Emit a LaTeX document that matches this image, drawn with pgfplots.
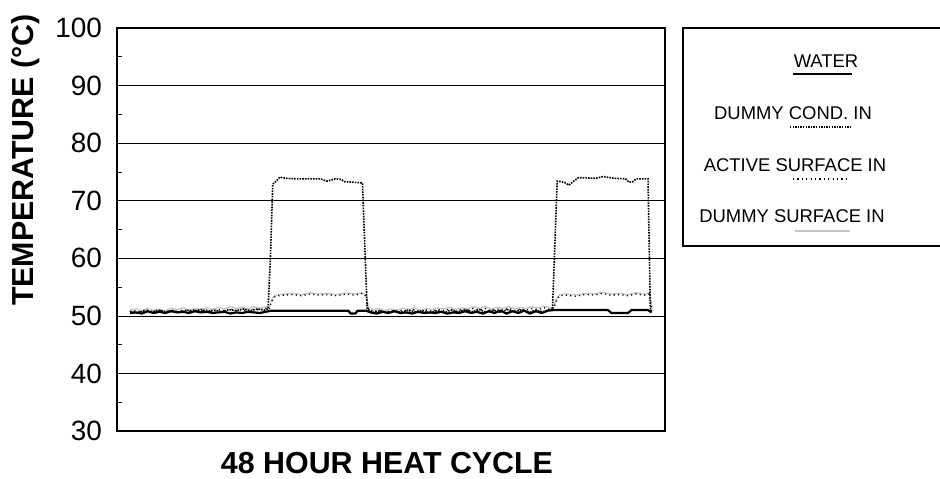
\documentclass[border=0pt]{standalone}
\usepackage{fontspec}
\setmainfont{Liberation Sans}
\usepackage{pgfplots}
\pgfplotsset{compat=1.18}
\begin{document}
\begin{tikzpicture}[x=1bp,y=1bp]
\path[use as bounding box] (0,0) rectangle (940,479);
\begin{axis}[
  at={(117bp,48bp)}, anchor=south west,
  width=548bp, height=403bp, scale only axis,
  xmin=-1.1, xmax=45.34, ymin=30, ymax=100,
  xtick=\empty,
  ytick={30,40,...,100},
  minor y tick num=1,
  ytick pos=left,
  minor tick length=5bp,
  major tick length=0bp,
  ymajorgrids,
  major grid style={black, line width=0.7bp},
  axis line style={black, line width=1.6bp},
  every minor tick/.style={black, line width=0.8bp},
  /pgf/number format/assume math mode=true,
  yticklabel style={font=\fontsize{28}{28}\selectfont, inner sep=0pt, anchor=east, xshift=-15bp},
  clip=false,
]
% Dummy surface in (light gray)
\addplot[gray!45, line width=1.3bp] coordinates {
(0.0,51.0)(0.5,51.2)(1.0,50.9)(1.5,51.3)(2.0,51.0)(2.5,51.2)(3.0,50.9)(3.5,51.3)(4.0,51.1)(4.5,51.4)(5.0,51.0)(5.5,51.3)(6.0,51.1)(6.5,51.4)(7.0,51.1)(7.5,51.5)(8.0,51.2)(8.5,51.6)(9.0,51.3)(9.5,51.5)(10.0,51.2)(10.5,51.6)(11.0,51.3)(11.5,51.6)(11.8,51.4)
(12.0,52.8)(12.3,53.6)(13.0,53.8)(13.8,53.9)(14.5,53.7)(15.3,54.0)(16.0,53.8)(16.8,53.9)(17.5,53.7)(18.3,54.0)(19.0,53.8)(19.7,54.0)(20.0,53.6)(20.2,51.6)
(20.6,51.0)(21.1,51.3)(21.6,50.9)(22.1,51.2)(22.6,51.0)(23.1,51.3)(23.6,51.1)(24.1,51.4)(24.6,51.0)(25.1,51.3)(25.6,51.1)(26.1,51.4)(26.6,51.2)(27.1,51.5)(27.6,51.1)(28.1,51.4)(28.6,51.2)(29.1,51.6)(29.6,51.3)(30.1,51.6)(30.6,51.2)(31.1,51.5)(31.6,51.3)(32.1,51.6)(32.6,51.2)(33.1,51.5)(33.6,51.3)(34.1,51.6)(34.6,51.4)(35.1,51.7)(35.6,51.4)(35.9,51.5)
(36.1,52.8)(36.4,53.7)(37.0,53.8)(37.8,53.6)(38.5,53.9)(39.3,53.8)(40.0,54.1)(40.7,53.8)(41.5,53.9)(42.2,53.7)(42.9,54.0)(43.6,53.8)(44.0,54.0)(44.2,51.6)(44.3,51.3)
};
% Active surface in (loose dots)
\addplot[black, line width=1.3bp, dash pattern=on 1.2bp off 3.2bp] coordinates {
(0.0,50.7)(0.5,50.9)(1.0,50.6)(1.5,51.0)(2.0,50.7)(2.5,50.9)(3.0,50.6)(3.5,51.0)(4.0,50.8)(4.5,51.0)(5.0,50.7)(5.5,51.1)(6.0,50.8)(6.5,51.0)(7.0,50.7)(7.5,51.1)(8.0,50.9)(8.5,51.2)(9.0,50.9)(9.5,51.1)(10.0,50.8)(10.5,51.2)(11.0,51.0)(11.5,51.3)(11.8,51.1)
(12.0,52.5)(12.3,53.4)(13.0,53.6)(13.8,53.7)(14.5,53.5)(15.3,53.8)(16.0,53.6)(16.8,53.7)(17.5,53.5)(18.3,53.8)(19.0,53.6)(19.7,53.9)(20.0,53.4)(20.2,51.3)
(20.6,50.7)(21.1,51.0)(21.6,50.6)(22.1,50.9)(22.6,50.7)(23.1,51.0)(23.6,50.8)(24.1,51.1)(24.6,50.7)(25.1,51.0)(25.6,50.8)(26.1,51.1)(26.6,50.9)(27.1,51.2)(27.6,50.8)(28.1,51.1)(28.6,50.9)(29.1,51.3)(29.6,51.0)(30.1,51.3)(30.6,50.9)(31.1,51.2)(31.6,51.0)(32.1,51.3)(32.6,50.9)(33.1,51.2)(33.6,51.0)(34.1,51.3)(34.6,51.1)(35.1,51.4)(35.6,51.1)(35.9,51.2)
(36.1,52.5)(36.4,53.5)(37.0,53.6)(37.8,53.4)(38.5,53.7)(39.3,53.6)(40.0,53.9)(40.7,53.6)(41.5,53.7)(42.2,53.5)(42.9,53.8)(43.6,53.6)(44.0,53.8)(44.2,51.4)(44.3,51.1)
};
% Dummy cond. in (dense dots)
\addplot[black, line width=1.6bp, dash pattern=on 1.6bp off 1.1bp] coordinates {
(0.0,50.8)(0.6,50.5)(1.2,50.9)(1.8,50.6)(2.4,51.0)(3.0,50.7)(3.6,50.9)(4.2,50.6)(4.8,51.0)(5.4,50.8)(6.0,51.1)(6.6,50.8)(7.2,51.0)(7.8,50.7)(8.4,51.1)(9.0,50.9)(9.6,51.2)(10.2,50.9)(10.8,51.2)(11.4,51.0)(11.7,51.2)
(11.9,60.0)(12.1,72.9)(12.4,73.4)(12.7,74.1)(13.2,73.9)(14.0,73.8)(15.0,73.8)(16.1,73.8)(16.7,73.4)(17.4,73.8)(17.9,73.7)(18.2,73.3)(19.0,73.2)(19.7,73.1)(19.9,62.0)(20.1,51.2)
(20.6,50.6)(21.2,50.9)(21.8,50.5)(22.4,50.9)(23.0,50.6)(23.6,51.0)(24.2,50.7)(24.8,50.9)(25.4,50.5)(26.0,50.9)(26.6,50.6)(27.2,51.0)(27.8,50.7)(28.4,51.1)(29.0,50.7)(29.6,51.1)(30.2,50.6)(30.8,51.0)(31.4,50.6)(32.0,51.1)(32.6,50.7)(33.2,51.1)(33.8,50.6)(34.4,51.0)(35.0,50.7)(35.6,51.1)(35.8,51.1)
(36.0,62.0)(36.2,73.4)(36.8,73.2)(37.2,72.7)(37.6,73.4)(38.0,74.0)(39.5,73.9)(40.1,74.2)(41.0,73.9)(42.0,73.8)(42.3,73.2)(42.6,73.3)(42.9,73.8)(43.9,73.8)(44.0,62.0)(44.1,51.0)(44.3,50.8)
};
% Water (solid thick)
\addplot[black, line width=2.2bp] coordinates {
(0.0,50.5)(0.5,50.6)(1.0,50.4)(1.5,50.8)(2.0,50.5)(2.5,50.7)(3.0,50.5)(3.5,50.8)(4.0,50.6)(4.5,50.7)(5.0,50.5)(5.5,50.8)(6.0,50.6)(6.5,50.7)(7.0,50.5)(7.5,50.6)(8.0,50.7)(8.5,50.4)(9.0,50.6)(9.5,50.5)(10.0,50.7)(10.5,50.6)(11.0,50.5)(11.5,50.7)
(12.0,50.9)(14.0,50.9)(16.0,50.9)(18.0,50.9)(18.5,50.9)(18.7,50.4)(19.1,50.4)(19.3,50.9)(20.0,50.9)
(20.4,50.6)(20.9,50.4)(21.4,50.7)(21.9,50.5)(22.4,50.8)(22.9,50.5)(23.4,50.6)(23.9,50.4)(24.4,50.7)(24.9,50.5)(25.4,50.6)(25.9,50.5)(26.4,50.7)(26.9,50.4)(27.4,50.6)(27.9,50.5)(28.4,50.8)(28.9,50.5)(29.4,50.7)(29.9,50.4)(30.4,50.8)(30.9,50.5)(31.4,50.9)(31.9,50.4)(32.4,50.8)(32.9,50.5)(33.4,50.9)(33.9,50.4)(34.4,50.8)(34.9,50.5)(35.4,50.9)
(35.9,51.0)(38.0,51.0)(40.5,51.0)(40.8,50.5)(42.2,50.5)(42.5,51.0)(43.9,51.0)(44.2,50.6)
};
\end{axis}
% axis labels
\node[rotate=90, font=\bfseries\fontsize{30.5}{30}\selectfont, inner sep=0pt] at (26,319) {TEMPERATURE (°C)};
\node[font=\bfseries\fontsize{30.5}{30}\selectfont, inner sep=0pt, anchor=base] at (387,5) {48 HOUR HEAT CYCLE};
% legend box
\draw[black, line width=1.6bp] (683,233) rectangle (962,451);
\begin{scope}[every node/.style={font=\fontsize{18.5}{18.5}\selectfont, inner sep=0pt, anchor=base}]
\node at (826,411) {WATER};
\node at (793,359) {DUMMY COND. IN};
\node at (795,307) {ACTIVE SURFACE IN};
\node at (792,256) {DUMMY SURFACE IN};
\end{scope}
\draw[black, line width=2bp] (793,405) -- (852,405);
\draw[black, line width=1.3bp, dash pattern=on 1.3bp off 1.3bp] (790,352) -- (852,352);
\draw[black, line width=1.3bp, dash pattern=on 1.2bp off 3.2bp] (793,300) -- (847,300);
\draw[gray!45, line width=1.3bp] (795,248) -- (850,248);
\end{tikzpicture}
\end{document}
